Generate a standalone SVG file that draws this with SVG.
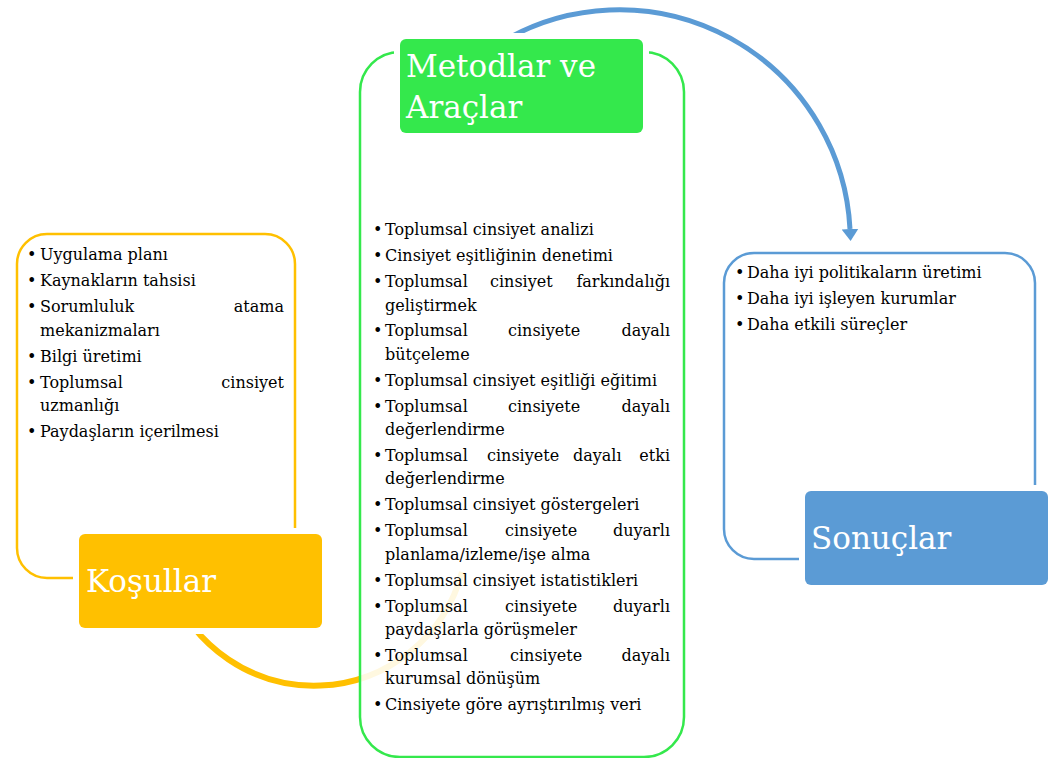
<svg xmlns="http://www.w3.org/2000/svg" width="1057" height="758" viewBox="0 0 1057 758">
<style>
.t{font-family:"DejaVu Serif","Liberation Serif",serif;font-size:16px;fill:#000}
.h{font-family:"DejaVu Serif","Liberation Serif",serif;font-size:31px;fill:#fff}
.e{text-anchor:end}
.gap{fill:#fff}
</style>
<defs>
<marker id="ah" markerUnits="userSpaceOnUse" markerWidth="12" markerHeight="17" viewBox="0 0 12 17" refX="0" refY="8.5" orient="auto">
<path d="M0,0 L12,8.5 L0,17 Z" fill="#5B9BD5"/>
</marker>
</defs>
<rect width="1057" height="758" fill="#fff"/>
<g id="connectors" fill="none">
<path d="M170,584 A153,153 0 0 0 462,572" stroke="#FFC000" stroke-width="6"/>
<path d="M505,40 A231,231 0 0 1 850,229" stroke="#5B9BD5" stroke-width="5" marker-end="url(#ah)"/>
</g>
<g id="kosullar">
<rect x="17" y="234" width="278" height="344" rx="30" fill="#fff" stroke="#FFC000" stroke-width="2.5"/>
<rect class="gap" x="73" y="528" width="255" height="106" rx="9"/>
<rect x="79" y="534" width="243" height="94" rx="6" fill="#FFC000"/>
<text class="h" x="86" y="592">Koşullar</text>
<g class="t">
<text x="27" y="260">•</text><text x="40" y="260">Uygulama planı</text>
<text x="27" y="286">•</text><text x="40" y="286">Kaynakların tahsisi</text>
<text x="27" y="312">•</text><text x="40" y="312">Sorumluluk</text><text class="e" x="284" y="312">atama</text>
<text x="40" y="335.5">mekanizmaları</text>
<text x="27" y="361.5">•</text><text x="40" y="361.5">Bilgi üretimi</text>
<text x="27" y="387.5">•</text><text x="40" y="387.5">Toplumsal</text><text class="e" x="284" y="387.5">cinsiyet</text>
<text x="40" y="411">uzmanlığı</text>
<text x="27" y="437">•</text><text x="40" y="437">Paydaşların içerilmesi</text>
</g>
</g>
<g id="metodlar">
<rect x="360" y="52" width="324" height="705" rx="40" fill="#fff" fill-opacity="0.88" stroke="#34E84C" stroke-width="2.5"/>
<rect class="gap" x="394" y="33" width="255" height="106" rx="9"/>
<rect x="400" y="39" width="243" height="94" rx="6" fill="#34E84C"/>
<text class="h" x="406" y="77">Metodlar ve</text>
<text class="h" x="406" y="118">Araçlar</text>
<g class="t">
<text x="373" y="235">•</text><text x="385" y="235">Toplumsal cinsiyet analizi</text>
<text x="373" y="261">•</text><text x="385" y="261">Cinsiyet eşitliğinin denetimi</text>
<text x="373" y="287">•</text><text x="385" y="287">Toplumsal</text><text x="490" y="287">cinsiyet</text><text class="e" x="670" y="287">farkındalığı</text>
<text x="385" y="310.5">geliştirmek</text>
<text x="373" y="336">•</text><text x="385" y="336">Toplumsal</text><text x="508" y="336">cinsiyete</text><text class="e" x="670" y="336">dayalı</text>
<text x="385" y="359.5">bütçeleme</text>
<text x="373" y="385.5">•</text><text x="385" y="385.5">Toplumsal cinsiyet eşitliği eğitimi</text>
<text x="373" y="411.5">•</text><text x="385" y="411.5">Toplumsal</text><text x="508" y="411.5">cinsiyete</text><text class="e" x="670" y="411.5">dayalı</text>
<text x="385" y="435">değerlendirme</text>
<text x="373" y="461">•</text><text x="385" y="461">Toplumsal</text><text x="487" y="461">cinsiyete</text><text x="573" y="461">dayalı</text><text class="e" x="670" y="461">etki</text>
<text x="385" y="484">değerlendirme</text>
<text x="373" y="510">•</text><text x="385" y="510">Toplumsal cinsiyet göstergeleri</text>
<text x="373" y="536">•</text><text x="385" y="536">Toplumsal</text><text x="505" y="536">cinsiyete</text><text class="e" x="670" y="536">duyarlı</text>
<text x="385" y="559.5">planlama/izleme/işe alma</text>
<text x="373" y="585.5">•</text><text x="385" y="585.5">Toplumsal cinsiyet istatistikleri</text>
<text x="373" y="611.5">•</text><text x="385" y="611.5">Toplumsal</text><text x="505" y="611.5">cinsiyete</text><text class="e" x="670" y="611.5">duyarlı</text>
<text x="385" y="635">paydaşlarla görüşmeler</text>
<text x="373" y="660.5">•</text><text x="385" y="660.5">Toplumsal</text><text x="510" y="660.5">cinsiyete</text><text class="e" x="670" y="660.5">dayalı</text>
<text x="385" y="684">kurumsal dönüşüm</text>
<text x="373" y="710">•</text><text x="385" y="710">Cinsiyete göre ayrıştırılmış veri</text>
</g>
</g>
<g id="sonuclar">
<rect x="724" y="253" width="311" height="306" rx="30" fill="#fff" stroke="#5B9BD5" stroke-width="2.5"/>
<rect class="gap" x="799" y="485" width="255" height="106" rx="9"/>
<rect x="805" y="491" width="243" height="94" rx="6" fill="#5B9BD5"/>
<text class="h" x="811" y="549">Sonuçlar</text>
<g class="t">
<text x="735" y="278">•</text><text x="747" y="278">Daha iyi politikaların üretimi</text>
<text x="735" y="304">•</text><text x="747" y="304">Daha iyi işleyen kurumlar</text>
<text x="735" y="330">•</text><text x="747" y="330">Daha etkili süreçler</text>
</g>
</g>
</svg>
